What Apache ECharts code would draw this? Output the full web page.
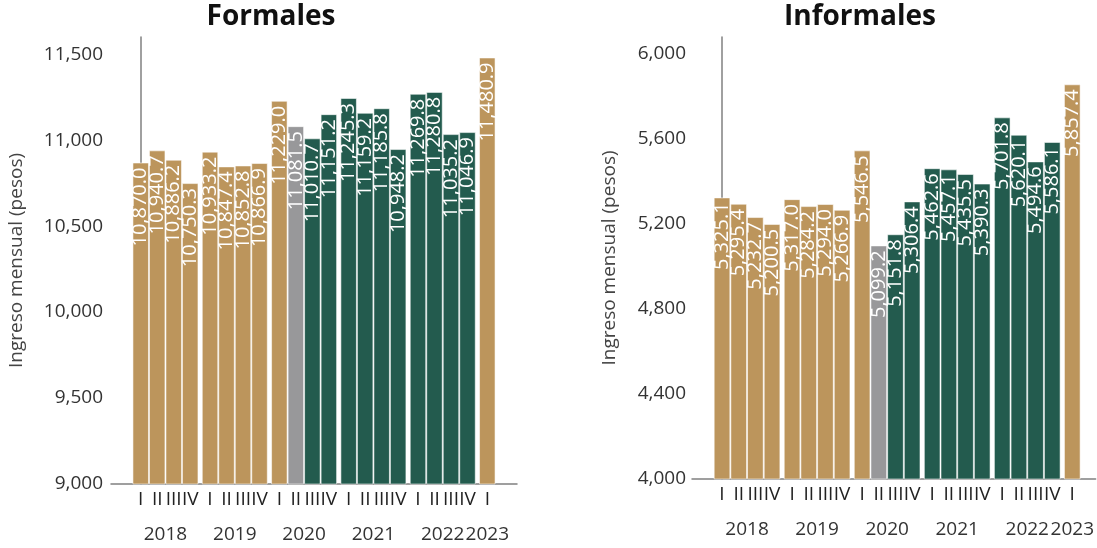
<!DOCTYPE html>
<html>
<head>
<meta charset="utf-8">
<script src="https://cdn.jsdelivr.net/npm/echarts@6/dist/echarts.min.js"></script>
<style>
  html, body { margin: 0; padding: 0; background: #fff; }
  #chart { width: 1097px; height: 548px; }
</style>
</head>
<body>
<div id="chart"></div>
<script>
// periodos trimestrales
const years = ['2018', '2019', '2020', '2021', '2022', '2023']
const barYears = ['2018', '2018', '2018', '2018', '2019', '2019', '2019', '2019',
  '2020', '2020', '2020', '2020', '2021', '2021', '2021', '2021',
  '2022', '2022', '2022', '2022', '2023']
const quarterLabels = ['I', 'II', 'III', 'IV', 'I', 'II', 'III', 'IV',
  'I', 'II', 'III', 'IV', 'I', 'II', 'III', 'IV',
  'I', 'II', 'III', 'IV', 'I']
// encuesta de origen (define el color)
const survey = ['ENOE', 'ENOE', 'ENOE', 'ENOE', 'ENOE', 'ENOE', 'ENOE', 'ENOE',
  'ENOE', 'ETOE', 'ENOEN', 'ENOEN', 'ENOEN', 'ENOEN', 'ENOEN', 'ENOEN',
  'ENOEN', 'ENOEN', 'ENOEN', 'ENOEN', 'ENOE']

const formales = [10870.0, 10940.7, 10886.2, 10750.3, 10933.2, 10847.4, 10852.8, 10866.9,
  11229.0, 11081.5, 11010.7, 11151.2, 11245.3, 11159.2, 11185.8, 10948.2,
  11269.8, 11280.8, 11035.2, 11046.9, 11480.9]
const informales = [5325.1, 5295.4, 5232.7, 5200.5, 5317.0, 5284.2, 5294.0, 5266.9,
  5546.5, 5099.2, 5151.8, 5306.4, 5462.6, 5457.1, 5435.5, 5390.3,
  5701.8, 5620.1, 5494.6, 5586.1, 5857.4]

const surveyColors = { ENOE: '#BC955C', ETOE: '#98989A', ENOEN: '#235B4E' }
const FONT = 'Open Sans'

// posicion de cada barra: 5 unidades por trimestre + 1 de separacion por año
const positions = barYears.map((y, k) => 5 * k + years.indexOf(y))
const yearCenters = years.map(y => {
  const p = positions.filter((_, k) => barYears[k] === y)
  return (p[0] + p[p.length - 1]) / 2
})

const fmt = v => v.toLocaleString('en-US', { minimumFractionDigits: 1, maximumFractionDigits: 1 })

function barData(values) {
  return values.map((v, k) => ({
    value: [positions[k], v],
    itemStyle: { color: surveyColors[survey[k]] },
  }))
}

function quarterAxis(gridIndex, max) {
  return {
    type: 'value', gridIndex, min: -9, max,
    splitLine: { show: false },
    axisLine: { show: true, onZero: false, lineStyle: { color: '#808080', width: 1.5 } },
    axisTick: { show: false },
    axisLabel: {
      customValues: positions,
      formatter: v => quarterLabels[positions.indexOf(v)] || '',
      color: '#222', fontFamily: FONT, fontSize: 19, margin: 6,
    },
  }
}

function yearAxis(gridIndex, max) {
  return {
    type: 'value', gridIndex, min: -9, max, position: 'bottom', offset: 34,
    splitLine: { show: false },
    axisLine: { show: false },
    axisTick: { show: false },
    axisLabel: {
      customValues: yearCenters,
      formatter: v => years[yearCenters.indexOf(v)] || '',
      color: '#333', fontFamily: FONT, fontSize: 19, margin: 7,
    },
  }
}

function valueAxis(gridIndex, min, max, interval, margin, nameGap) {
  return {
    type: 'value', gridIndex, min, max, interval,
    name: 'Ingreso mensual (pesos)', nameLocation: 'middle', nameGap,
    nameTextStyle: { color: '#444', fontFamily: FONT, fontSize: 19 },
    splitLine: { show: false },
    axisLine: { show: true, lineStyle: { color: '#808080', width: 1.5 } },
    axisTick: { show: false },
    axisLabel: {
      color: '#333', fontFamily: FONT, fontSize: 19, margin,
      showMaxLabel: false,
      formatter: v => v.toLocaleString('en-US'),
    },
  }
}

function barSeries(values, axisIdx) {
  return {
    type: 'bar',
    xAxisIndex: axisIdx, yAxisIndex: axisIdx / 2,
    data: barData(values),
    barWidth: '100%',
    itemStyle: { borderColor: 'rgba(255,255,255,0.55)', borderWidth: 1 },
    label: {
      show: true, position: 'insideTop', distance: 5,
      rotate: 90, align: 'right', verticalAlign: 'middle',
      color: '#fff', fontFamily: FONT, fontSize: 20,
      formatter: p => fmt(p.value[1]),
    },
  }
}

const chart = echarts.init(document.getElementById('chart'), null, { renderer: 'canvas' })
chart.setOption({
  animation: false,
  title: [
    { text: 'Formales', left: 266, top: -2, textAlign: 'center',
      textStyle: { fontFamily: FONT, fontSize: 28, fontWeight: 'bold', color: '#111' } },
    { text: 'Informales', left: 855, top: -2, textAlign: 'center',
      textStyle: { fontFamily: FONT, fontSize: 28, fontWeight: 'bold', color: '#111' } },
  ],
  grid: [
    { left: 111, top: 37, width: 406, height: 447 },
    { left: 692, top: 37, width: 405, height: 442 },
  ],
  xAxis: [quarterAxis(0, 114), yearAxis(0, 114), quarterAxis(1, 112), yearAxis(1, 112)],
  yAxis: [
    valueAxis(0, 9000, 11600, 500, 8, 85),
    valueAxis(1, 4000, 6080, 400, 6, 73),
  ],
  series: [barSeries(formales, 0), barSeries(informales, 2)],
})
</script>
</body>
</html>
